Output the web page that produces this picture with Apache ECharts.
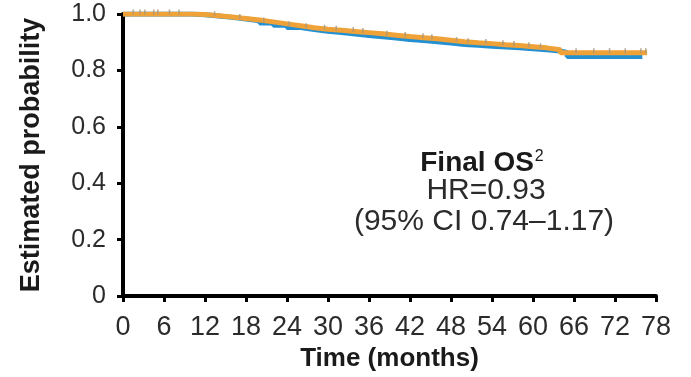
<!DOCTYPE html>
<html>
<head>
<meta charset="utf-8">
<script src="https://cdn.jsdelivr.net/npm/echarts@6/dist/echarts.min.js"></script>
<style>
  html, body { margin: 0; padding: 0; background: #fff; }
  #chart { width: 691px; height: 377px; }
</style>
</head>
<body>
<div id="chart"></div>
<script>
// Kaplan–Meier overall survival, two arms: [month, survival]
var blueArm = [
  [0, 1.0], [10, 0.997], [12, 0.993], [14, 0.988], [16, 0.982], [18, 0.976],
  [20, 0.968], [22, 0.960], [24, 0.952], [26, 0.945], [28, 0.939], [30, 0.934],
  [32, 0.929], [34, 0.924], [36, 0.919], [38, 0.915], [40, 0.910], [42, 0.906],
  [44, 0.902], [46, 0.897], [48, 0.892], [50, 0.889], [52, 0.886], [54, 0.883],
  [56, 0.880], [58, 0.877], [60, 0.873], [62, 0.869], [64, 0.864], [65, 0.849],
  [76, 0.849]
];
var orangeArm = [
  [0, 1.0], [10, 0.998], [12, 0.994], [14, 0.989], [16, 0.984], [18, 0.979],
  [20, 0.972], [22, 0.965], [24, 0.958], [26, 0.951], [28, 0.946], [30, 0.942],
  [32, 0.938], [34, 0.934], [36, 0.930], [38, 0.925], [40, 0.920], [42, 0.916],
  [44, 0.912], [46, 0.907], [48, 0.902], [50, 0.898], [52, 0.895], [54, 0.891],
  [56, 0.888], [58, 0.884], [60, 0.880], [62, 0.873], [64, 0.863], [76.7, 0.863]
];
// censoring times on the orange arm (months)
var orangeCensored = [
  1.5, 2.5, 3.2, 4.5, 5.1, 6.8, 8.2, 13.4, 17.1, 20.6, 24.3, 26.8, 29.5, 31.2,
  33.7, 35.1, 38.6, 41.3, 43.9, 45.2, 48.8, 50.5, 53.1, 55.6, 57.2, 59.4,
  61.1, 66.3, 68.9, 71.2, 73.5, 75.8, 76.5
];
var xTicks = [0, 6, 12, 18, 24, 30, 36, 42, 48, 54, 60, 66, 72, 78];
var yTicks = [0, 0.2, 0.4, 0.6, 0.8, 1.0];

// survival of a step curve at time t (last value at or before t)
function survivalAt(curve, t) {
  var s = curve[0][1];
  for (var i = 0; i < curve.length; i++) {
    if (curve[i][0] <= t) s = curve[i][1];
  }
  return s;
}
var censorMarks = orangeCensored.map(function (t) { return [t, survivalAt(orangeArm, t)]; });

var chart = echarts.init(document.getElementById('chart'), null, { renderer: 'canvas' });
var fontFam = '"Liberation Sans", Arial, sans-serif';

chart.setOption({
  animation: false,
  backgroundColor: '#ffffff',
  grid: { left: 123, right: 35, top: 14, bottom: 78 },
  xAxis: {
    type: 'value',
    min: xTicks[0],
    max: xTicks[xTicks.length - 1],
    interval: 6,
    name: 'Time (months)',
    nameLocation: 'middle',
    nameGap: 40,
    nameTextStyle: { fontFamily: fontFam, fontWeight: 'bold', fontSize: 26, color: '#1a1a1a' },
    axisLine: { lineStyle: { color: '#000', width: 4 } },
    axisTick: { length: 6, lineStyle: { color: '#000', width: 3 } },
    axisLabel: { fontFamily: fontFam, fontSize: 27, color: '#2b2b2b', margin: 18 },
    splitLine: { show: false }
  },
  yAxis: {
    type: 'value',
    min: yTicks[0],
    max: yTicks[yTicks.length - 1],
    interval: 0.2,
    name: 'Estimated probability',
    nameLocation: 'middle',
    nameGap: 78,
    nameTextStyle: { fontFamily: fontFam, fontWeight: 'bold', fontSize: 27, color: '#1a1a1a' },
    axisLine: { lineStyle: { color: '#000', width: 4 } },
    axisTick: { length: 6, lineStyle: { color: '#000', width: 3 } },
    axisLabel: {
      fontFamily: fontFam, fontSize: 25, color: '#2b2b2b', margin: 17,
      formatter: function (v) { return v === 0 ? '0' : v.toFixed(1); }
    },
    splitLine: { show: false }
  },
  series: [
    {
      type: 'line', step: 'end', data: blueArm, showSymbol: false,
      lineStyle: { color: '#2490d2', width: 5 }, z: 2
    },
    {
      type: 'line', step: 'end', data: orangeArm, showSymbol: false,
      lineStyle: { color: '#efa238', width: 5 }, z: 3
    },
    {
      type: 'scatter', data: censorMarks, symbol: 'rect', symbolSize: [1.5, 5],
      symbolOffset: [0, -2],
      itemStyle: { color: '#a8967e', opacity: 0.85 }, z: 4
    }
  ],
  graphic: [
    {
      type: 'text', x: 482, y: 163,
      style: {
        text: '{b|Final OS}{s|2}',
        align: 'center', verticalAlign: 'middle',
        rich: {
          b: { fontFamily: fontFam, fontWeight: 'bold', fontSize: 28, fill: '#1a1a1a' },
          s: { fontFamily: fontFam, fontSize: 16, fill: '#1a1a1a', verticalAlign: 'top', padding: [0, 0, 0, 1] }
        }
      }
    },
    {
      type: 'text', x: 486, y: 191,
      style: { text: 'HR=0.93', align: 'center', verticalAlign: 'middle', fontFamily: fontFam, fontSize: 30, fill: '#2b2b2b' }
    },
    {
      type: 'text', x: 484, y: 222,
      style: { text: '(95% CI 0.74\u20131.17)', align: 'center', verticalAlign: 'middle', fontFamily: fontFam, fontSize: 30, fill: '#2b2b2b' }
    }
  ]
});
</script>
</body>
</html>
